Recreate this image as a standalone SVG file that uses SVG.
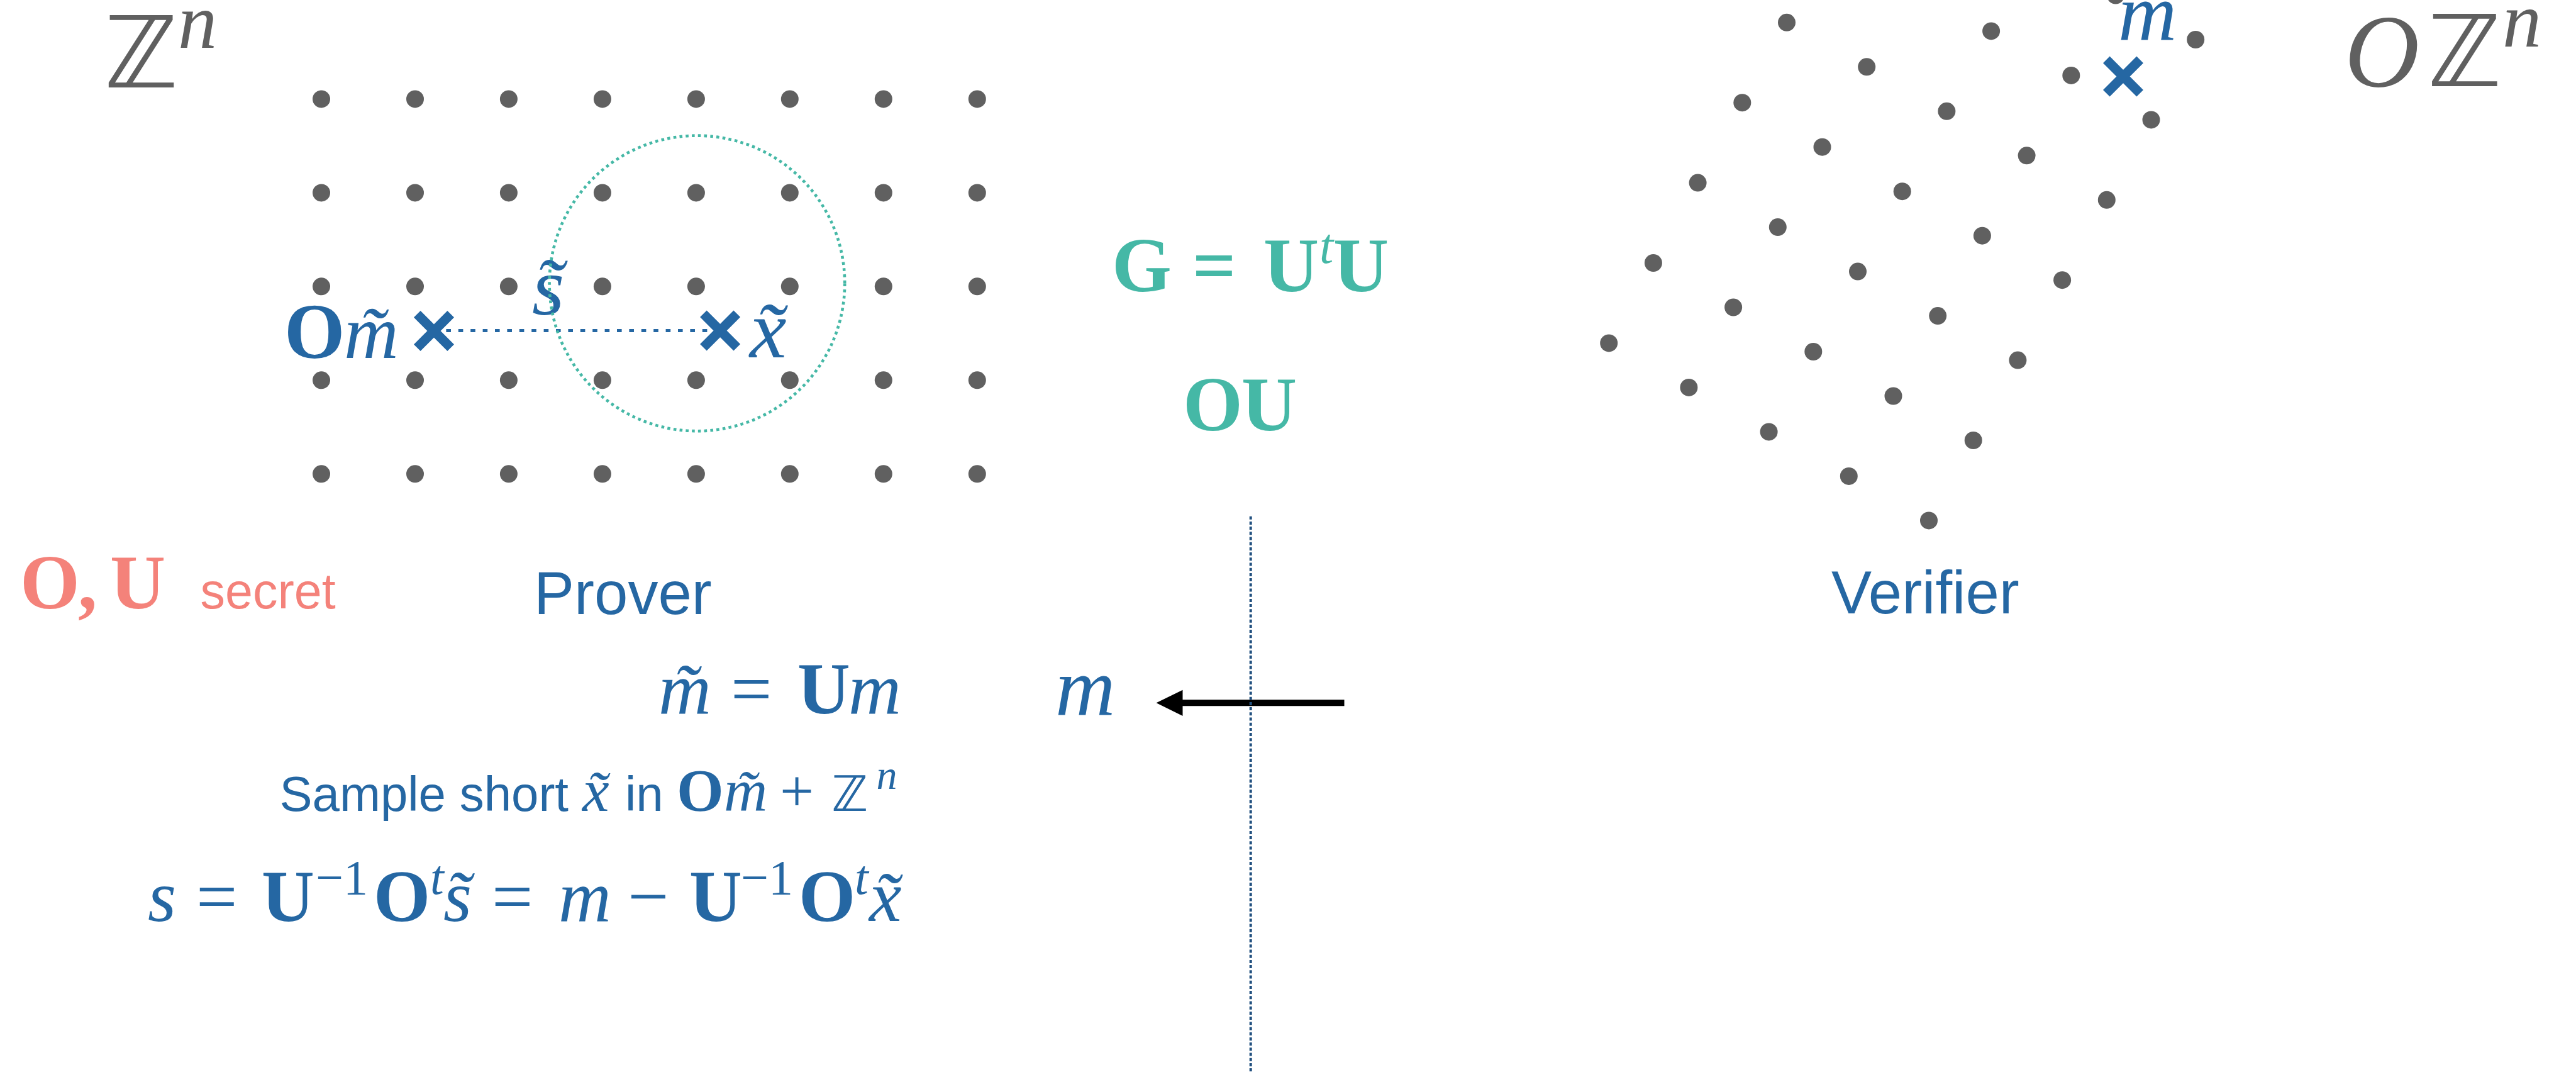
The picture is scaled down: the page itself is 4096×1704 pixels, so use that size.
<svg xmlns="http://www.w3.org/2000/svg" width="4096" height="1704" viewBox="0 0 4096 1704">
<style>
.dot{fill:#606060}
.serif{font-family:"Liberation Serif","Times New Roman",serif}
.sans{font-family:"Liberation Sans",Arial,sans-serif}
.bb{font-family:"DejaVu Sans",sans-serif;font-style:oblique;font-weight:normal}
.it{font-style:italic}
.bf{font-weight:bold}
.blue{fill:#2567a3}
.teal{fill:#45b8a6}
.red{fill:#f4827a}
.gray{fill:#606060}
</style>
<defs>
<path id="cross" d="M-26.7,-26.7 L26.7,26.7 M26.7,-26.7 L-26.7,26.7" stroke="#2567a3" stroke-width="15" fill="none"/>
<marker id="ah" markerUnits="strokeWidth" markerWidth="4.2" markerHeight="4.12" viewBox="0 0 4.2 4.12" refX="1.05" refY="2.06" orient="auto" overflow="visible">
<path d="M0,0 L4.2,2.06 L0,4.12 Z" fill="#000"/>
</marker>
</defs>
<rect width="4096" height="1704" fill="#fff"/>

<g id="zn-lattice">
<circle class="dot" cx="511.0" cy="157.4" r="14"/><circle class="dot" cx="660.0" cy="157.4" r="14"/><circle class="dot" cx="808.9" cy="157.4" r="14"/><circle class="dot" cx="957.9" cy="157.4" r="14"/><circle class="dot" cx="1106.9" cy="157.4" r="14"/><circle class="dot" cx="1255.8" cy="157.4" r="14"/><circle class="dot" cx="1404.8" cy="157.4" r="14"/><circle class="dot" cx="1553.8" cy="157.4" r="14"/>
<circle class="dot" cx="511.0" cy="306.4" r="14"/><circle class="dot" cx="660.0" cy="306.4" r="14"/><circle class="dot" cx="808.9" cy="306.4" r="14"/><circle class="dot" cx="957.9" cy="306.4" r="14"/><circle class="dot" cx="1106.9" cy="306.4" r="14"/><circle class="dot" cx="1255.8" cy="306.4" r="14"/><circle class="dot" cx="1404.8" cy="306.4" r="14"/><circle class="dot" cx="1553.8" cy="306.4" r="14"/>
<circle class="dot" cx="511.0" cy="455.3" r="14"/><circle class="dot" cx="660.0" cy="455.3" r="14"/><circle class="dot" cx="808.9" cy="455.3" r="14"/><circle class="dot" cx="957.9" cy="455.3" r="14"/><circle class="dot" cx="1106.9" cy="455.3" r="14"/><circle class="dot" cx="1255.8" cy="455.3" r="14"/><circle class="dot" cx="1404.8" cy="455.3" r="14"/><circle class="dot" cx="1553.8" cy="455.3" r="14"/>
<circle class="dot" cx="511.0" cy="604.3" r="14"/><circle class="dot" cx="660.0" cy="604.3" r="14"/><circle class="dot" cx="808.9" cy="604.3" r="14"/><circle class="dot" cx="957.9" cy="604.3" r="14"/><circle class="dot" cx="1106.9" cy="604.3" r="14"/><circle class="dot" cx="1255.8" cy="604.3" r="14"/><circle class="dot" cx="1404.8" cy="604.3" r="14"/><circle class="dot" cx="1553.8" cy="604.3" r="14"/>
<circle class="dot" cx="511.0" cy="753.3" r="14"/><circle class="dot" cx="660.0" cy="753.3" r="14"/><circle class="dot" cx="808.9" cy="753.3" r="14"/><circle class="dot" cx="957.9" cy="753.3" r="14"/><circle class="dot" cx="1106.9" cy="753.3" r="14"/><circle class="dot" cx="1255.8" cy="753.3" r="14"/><circle class="dot" cx="1404.8" cy="753.3" r="14"/><circle class="dot" cx="1553.8" cy="753.3" r="14"/>
</g>

<g id="ozn-lattice">
<circle class="dot" cx="2558.2" cy="545.4" r="14"/><circle class="dot" cx="2628.9" cy="418.0" r="14"/><circle class="dot" cx="2699.6" cy="290.6" r="14"/><circle class="dot" cx="2770.3" cy="163.2" r="14"/><circle class="dot" cx="2841.0" cy="35.8" r="14"/>
<circle class="dot" cx="2685.4" cy="615.9" r="14"/><circle class="dot" cx="2756.1" cy="488.5" r="14"/><circle class="dot" cx="2826.8" cy="361.1" r="14"/><circle class="dot" cx="2897.5" cy="233.7" r="14"/><circle class="dot" cx="2968.2" cy="106.3" r="14"/>
<circle class="dot" cx="2812.6" cy="686.4" r="14"/><circle class="dot" cx="2883.3" cy="559.0" r="14"/><circle class="dot" cx="2954.0" cy="431.6" r="14"/><circle class="dot" cx="3024.7" cy="304.2" r="14"/><circle class="dot" cx="3095.4" cy="176.8" r="14"/><circle class="dot" cx="3166.1" cy="49.4" r="14"/>
<circle class="dot" cx="2939.8" cy="756.9" r="14"/><circle class="dot" cx="3010.5" cy="629.5" r="14"/><circle class="dot" cx="3081.2" cy="502.1" r="14"/><circle class="dot" cx="3151.9" cy="374.7" r="14"/><circle class="dot" cx="3222.6" cy="247.3" r="14"/><circle class="dot" cx="3293.3" cy="119.9" r="14"/><circle class="dot" cx="3364.0" cy="-7.5" r="14"/>
<circle class="dot" cx="3067.0" cy="827.4" r="14"/><circle class="dot" cx="3137.7" cy="700.0" r="14"/><circle class="dot" cx="3208.4" cy="572.6" r="14"/><circle class="dot" cx="3279.1" cy="445.2" r="14"/><circle class="dot" cx="3349.8" cy="317.8" r="14"/><circle class="dot" cx="3420.5" cy="190.4" r="14"/><circle class="dot" cx="3491.2" cy="63.0" r="14"/>
</g>

<g id="connectors">
<line id="s-vector" x1="690" y1="525.5" x2="1145" y2="525.5" stroke="#2567a3" stroke-width="5.2" stroke-dasharray="7.6 11.8"/>
<line id="m-arrow" x1="2137.5" y1="1117.3" x2="1870" y2="1117.3" stroke="#000" stroke-width="10" marker-end="url(#ah)"/>
</g>

<g id="divider">
<line x1="1988.7" y1="820.7" x2="1988.7" y2="1704" stroke="#21507f" stroke-width="4" stroke-dasharray="5 3.2"/>
</g>

<g id="cross-om">
<use href="#cross" x="690" y="526"/>
<text class="serif blue" font-size="124" y="569"><tspan class="bf" x="452">O</tspan><tspan class="it" x="547" font-size="120">m̃</tspan></text>
</g>
<g id="cross-x">
<use href="#cross" x="1145.1" y="525.5"/>
<text class="serif it blue" font-size="132" x="1192" y="568">x̃</text>
</g>
<text id="label-s" class="serif it blue" font-size="132" x="846" y="499.6">s̃</text>

<g id="ball">
<circle cx="1108.4" cy="450.4" r="234.8" fill="none" stroke="#45b8a6" stroke-width="4.6" stroke-dasharray="4.6 5.2"/>
</g>

<g id="label-zn">
<text class="gray"><tspan class="bb" x="165.8" y="139" font-size="158">ℤ</tspan><tspan class="serif it" x="283" y="76" font-size="124">n</tspan></text>
</g>

<g id="label-ozn">
<text class="gray"><tspan class="serif it" x="3728" y="137" font-size="165">O</tspan><tspan class="bb" x="3860" y="137" font-size="158">ℤ</tspan><tspan class="serif it" x="3979" y="73.7" font-size="124">n</tspan></text>
</g>

<g id="cross-m">
<use href="#cross" x="3376" y="121.6"/>
<text class="serif it blue" font-size="129" x="3368" y="64">m</text>
</g>

<g id="public-key">
<text class="serif bf teal" font-size="122" y="463.4"><tspan x="1768">G</tspan><tspan x="1896">=</tspan><tspan x="2009">U</tspan><tspan class="it" x="2098" y="417.7" font-size="80" font-weight="normal">t</tspan><tspan x="2120" y="463.4">U</tspan></text>
<text class="serif bf teal" font-size="122" y="683.6"><tspan x="1881">O</tspan><tspan x="1974">U</tspan></text>
</g>

<g id="secret">
<text class="serif bf red" font-size="122" y="966.5"><tspan x="32">O</tspan><tspan x="124">,</tspan><tspan x="175">U</tspan></text>
<text class="sans red" font-size="79" x="318.5" y="966.5">secret</text>
</g>

<g id="prover">
<text class="sans blue" font-size="96" x="849" y="976">Prover</text>
<text class="serif blue" font-size="116" y="1134"><tspan class="it" x="1047">m̃</tspan><tspan x="1162">=</tspan><tspan class="bf" x="1268">U</tspan><tspan class="it" x="1349">m</tspan></text>
<text class="blue" y="1288.6"><tspan class="sans" x="444.5" font-size="78">Sample short</tspan><tspan class="serif it" x="926" font-size="96">x̃</tspan><tspan class="sans" x="994" font-size="78">in</tspan><tspan class="serif bf" x="1076" font-size="96">O</tspan><tspan class="serif it" x="1151" font-size="96">m̃</tspan><tspan class="serif" x="1240" font-size="96">+</tspan><tspan class="bb" x="1322" font-size="78">ℤ</tspan><tspan class="serif it" x="1393.5" y="1253.6" font-size="66">n</tspan></text>
<text class="serif blue" font-size="116" y="1463.8"><tspan class="it" x="235">s</tspan><tspan x="312">=</tspan><tspan class="bf" x="416">U</tspan><tspan x="502" y="1421" font-size="78">−1</tspan><tspan class="bf" x="594" y="1463.8">O</tspan><tspan class="it" x="684" y="1421" font-size="78">t</tspan><tspan class="it" x="705" y="1463.8">s̃</tspan><tspan x="782">=</tspan><tspan class="it" x="888">m</tspan><tspan x="998">−</tspan><tspan class="bf" x="1096">U</tspan><tspan x="1178" y="1421" font-size="78">−1</tspan><tspan class="bf" x="1270" y="1463.8">O</tspan><tspan class="it" x="1359" y="1421" font-size="78">t</tspan><tspan class="it" x="1382" y="1463.8">x̃</tspan></text>
</g>

<g id="verifier">
<text class="sans blue" font-size="96" x="2912" y="975">Verifier</text>
<text class="serif it blue" font-size="132" x="1678" y="1136">m</text>
</g>
</svg>
